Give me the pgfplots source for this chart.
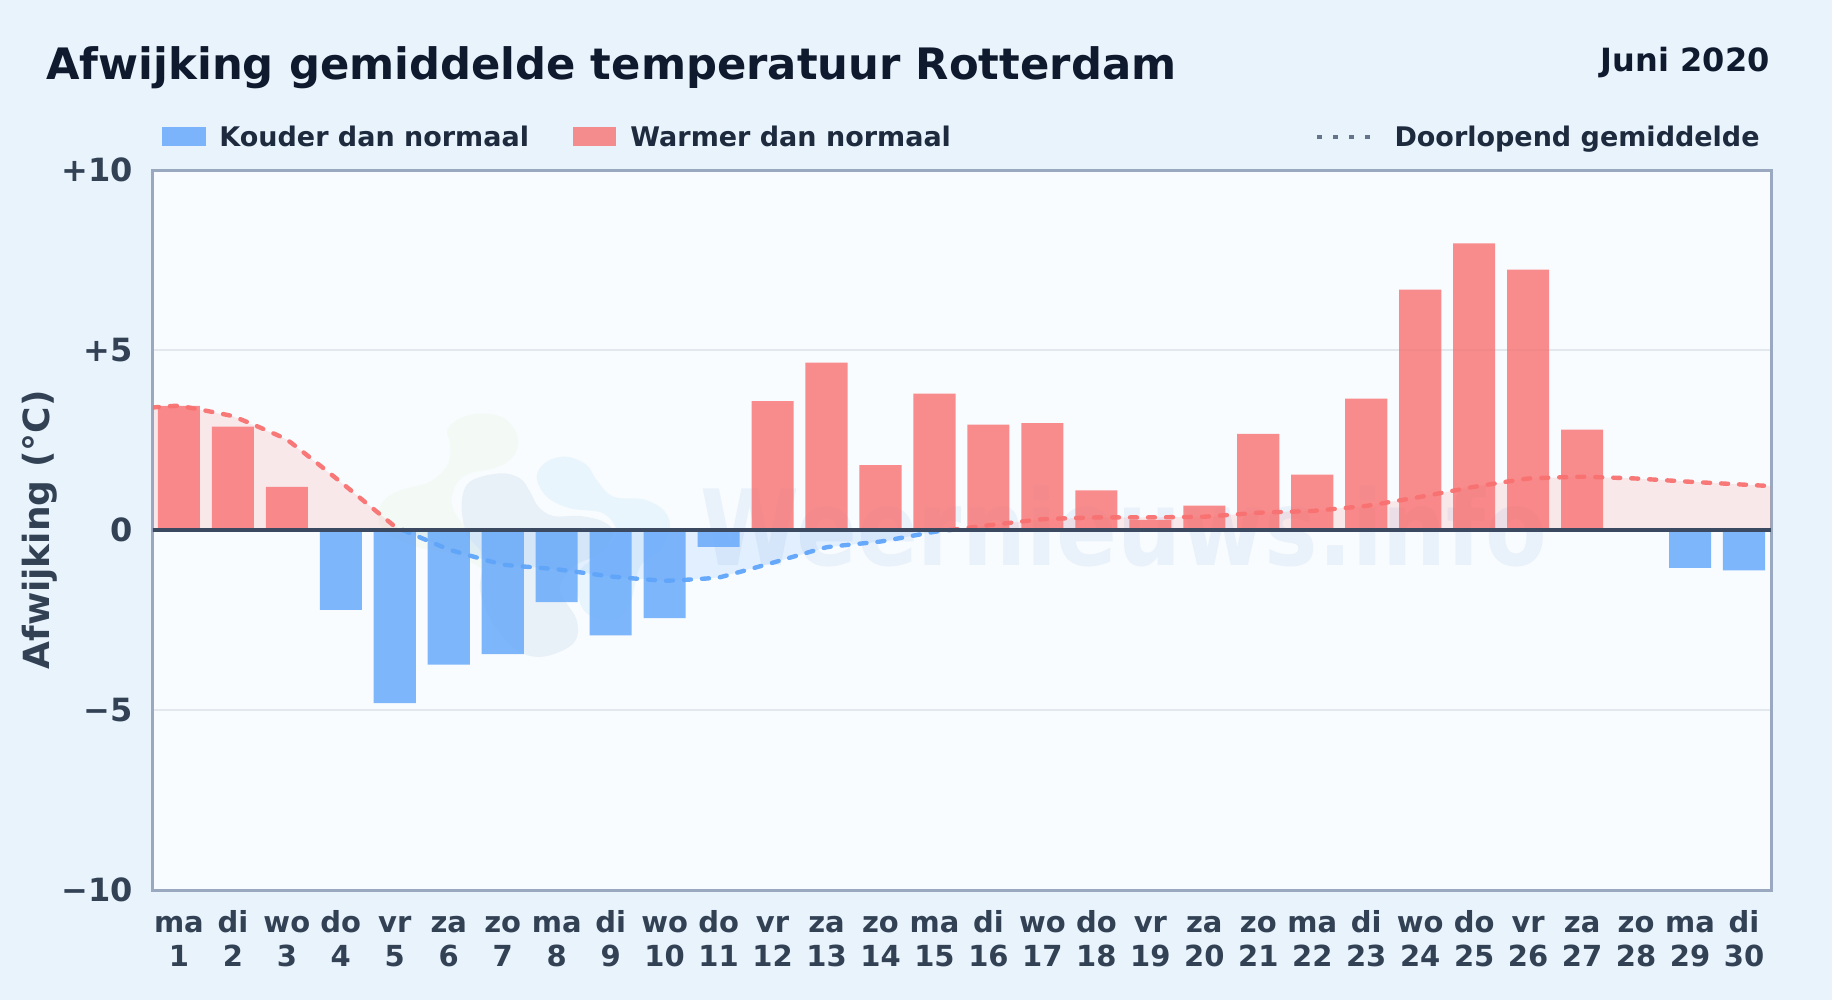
\documentclass[border=0pt]{standalone}
\usepackage{pgfplots}
\pgfplotsset{compat=1.18}
\usepackage{fontspec}
\setmainfont{DejaVu Sans}
\definecolor{pagebg}{HTML}{E8F3FC}
\definecolor{plotbg}{HTML}{F8FCFF}
\definecolor{frameC}{HTML}{9AA9C0}
\definecolor{gridC}{HTML}{E2E8ED}
\definecolor{zeroC}{HTML}{3B4A60}
\definecolor{coldC}{HTML}{60A5FA}
\definecolor{warmC}{HTML}{F87171}
\definecolor{titleC}{HTML}{0F1A2E}
\definecolor{legC}{HTML}{1E2B3E}
\definecolor{tickC}{HTML}{334155}
\definecolor{dotC}{HTML}{64748B}
\definecolor{wmGreen}{HTML}{F3F9F4}
\definecolor{wmDark}{HTML}{E9F1F8}
\definecolor{wmLight}{HTML}{E9F5FD}
\definecolor{wmText}{HTML}{E9F1FA}
\newcommand\tl[2]{\rule{0pt}{14pt}#1\\#2}
\pgfplotstableread{
x y
1 3.45
2 2.87
3 1.20
12 3.58
13 4.65
14 1.80
15 3.79
16 2.93
17 2.97
18 1.10
19 0.28
20 0.68
21 2.67
22 1.54
23 3.65
24 6.68
25 7.96
26 7.23
27 2.79
}\warmbars
\pgfplotstableread{
x y
4 -2.22
5 -4.81
6 -3.74
7 -3.45
8 -2.00
9 -2.93
10 -2.45
11 -0.47
29 -1.05
30 -1.12
}\coldbars
\pgfplotstableread{
x y
0.5 3.40
1 3.45
2 3.16
3 2.51
4 1.33
5 0.10
5.15 0
}\warmA
\pgfplotstableread{
x y
5.15 0
6 -0.54
7 -0.96
8 -1.09
9 -1.29
10 -1.41
11 -1.32
12 -0.91
13 -0.48
14 -0.32
15 -0.05
15.3 0
}\coldA
\pgfplotstableread{
x y
15.3 0
16 0.13
17 0.30
18 0.35
19 0.35
20 0.37
21 0.48
22 0.53
23 0.67
24 0.92
25 1.20
26 1.43
27 1.48
28 1.43
29 1.34
30 1.26
30.5 1.22
}\warmB
\pgfplotstableread{
x y
0.5 0
0.5 3.40
1 3.45
2 3.16
3 2.51
4 1.33
5 0.10
5.15 0
}\warmAfill
\pgfplotstableread{
x y
15.3 0
16 0.13
17 0.30
18 0.35
19 0.35
20 0.37
21 0.48
22 0.53
23 0.67
24 0.92
25 1.20
26 1.43
27 1.48
28 1.43
29 1.34
30 1.26
30.5 1.22
30.5 0
}\warmBfill
\begin{document}
\begin{tikzpicture}
\begin{scope}[x=0.5pt,y=-0.5pt]
% page in pixel coordinates: 1px = 0.5pt, origin top left
\path[fill=pagebg,use as bounding box] (0,0) rectangle (1832,1000);
\fill[plotbg] (153,170) rectangle (1771,890);
% faint watermark behind the plot
\begin{scope}[shift={(360,390)},x=0.16667pt,y=-0.16667pt]
\fill[wmGreen] plot[smooth cycle,tension=0.6] coordinates {(370,70)(440,90)(475,150)(455,205)(400,235)(330,250)(290,280)(275,340)(310,400)(400,440)(490,500)(525,560)(510,620)(470,610)(400,560)(300,500)(170,470)(70,420)(60,350)(110,305)(210,275)(265,220)(270,160)(262,120)(300,85)};
\fill[wmLight] plot[smooth cycle,tension=0.6] coordinates {(620,200)(680,225)(710,270)(760,320)(850,328)(910,360)(930,410)(900,480)(840,530)(810,640)(760,690)(680,670)(650,600)(660,540)(720,490)(770,430)(730,370)(630,355)(560,320)(530,260)(560,215)};
\fill[wmDark] plot[smooth cycle,tension=0.6] coordinates {(420,250)(480,265)(510,305)(535,350)(580,378)(660,378)(730,395)(760,430)(720,490)(640,530)(600,600)(650,690)(640,760)(550,800)(470,780)(400,700)(360,600)(370,500)(320,430)(305,340)(330,275)};
\end{scope}
\node[anchor=base west,inner sep=0,xscale=0.855,text=wmText,font=\fontsize{52.5}{60}\selectfont\bfseries] at (700,565) {Weernieuws.info};
\end{scope}
\begin{axis}[
  at={(76.5pt,-445pt)},anchor=south west,
  scale only axis,width=809pt,height=360pt,
  xmin=0.52,xmax=30.5,ymin=-10,ymax=10,
  axis line style={draw=frameC,line width=1.5pt},
  major tick length=0pt,
  ymajorgrids,
  grid style={draw=gridC,line width=0.8pt},
  xtick={1,...,30},
  xticklabels={\tl{ma}{1},\tl{di}{2},\tl{wo}{3},\tl{do}{4},\tl{vr}{5},\tl{za}{6},\tl{zo}{7},\tl{ma}{8},\tl{di}{9},\tl{wo}{10},\tl{do}{11},\tl{vr}{12},\tl{za}{13},\tl{zo}{14},\tl{ma}{15},\tl{di}{16},\tl{wo}{17},\tl{do}{18},\tl{vr}{19},\tl{za}{20},\tl{zo}{21},\tl{ma}{22},\tl{di}{23},\tl{wo}{24},\tl{do}{25},\tl{vr}{26},\tl{za}{27},\tl{zo}{28},\tl{ma}{29},\tl{di}{30}},
  xticklabel style={align=center,font=\fontsize{14.5}{17}\selectfont\bfseries,text=tickC,inner sep=0pt,yshift=-6.8pt},
  ytick={-10,-5,0,5,10},
  yticklabels={−10,−5,0,+5,+10},
  yticklabel style={font=\fontsize{16}{19}\selectfont\bfseries,text=tickC,inner sep=0pt,xshift=-10pt},
  ylabel={Afwijking (°C)},
  ylabel style={font=\fontsize{18}{21}\selectfont\bfseries,text=tickC,at={(axis description cs:-0.0700,0.5)},anchor=center},
  clip=true,
]
\addplot[fill=warmC,fill opacity=0.14,draw=none] table {\warmAfill};
\addplot[fill=warmC,fill opacity=0.14,draw=none] table {\warmBfill};
\addplot[fill=coldC,fill opacity=0.14,draw=none] table {\coldA};
\addplot[ybar,bar width=0.78,bar shift=0pt,fill=warmC,fill opacity=0.8,draw=none] table {\warmbars};
\addplot[ybar,bar width=0.78,bar shift=0pt,fill=coldC,fill opacity=0.8,draw=none] table {\coldbars};
\addplot[warmC,line width=2.2pt,line cap=round,dash pattern=on 3.5pt off 5.5pt,smooth,tension=0.15,draw opacity=0.95] table {\warmA};
\addplot[coldC,line width=2.2pt,line cap=round,dash pattern=on 3.5pt off 5.5pt,smooth,tension=0.15,draw opacity=0.95] table {\coldA};
\addplot[warmC,line width=2.2pt,line cap=round,dash pattern=on 3.5pt off 5.5pt,smooth,tension=0.15,draw opacity=0.95] table {\warmB};
\addplot[zeroC,line width=2pt] coordinates {(0.5,0) (30.5,0)};
\end{axis}
\begin{scope}[x=0.5pt,y=-0.5pt]
% titles
\node[anchor=base west,inner sep=0,text=titleC,font=\fontsize{21.65}{25}\selectfont\bfseries] at (46,79.5) {Afwijking gemiddelde temperatuur Rotterdam};
\node[anchor=base east,inner sep=0,text=titleC,font=\fontsize{16}{19}\selectfont\bfseries] at (1770,71.5) {Juni 2020};
% legend
\fill[coldC,fill opacity=0.8] (162,127) rectangle (206,146);
\node[anchor=base west,inner sep=0,text=legC,font=\fontsize{13.5}{16}\selectfont\bfseries] at (219,146.8) {Kouder dan normaal};
\fill[warmC,fill opacity=0.8] (573,127) rectangle (616,146);
\node[anchor=base west,inner sep=0,text=legC,font=\fontsize{13.5}{16}\selectfont\bfseries] at (630,146.8) {Warmer dan normaal};
\draw[draw=dotC,line width=2pt,dash pattern=on 2.4pt off 5.6pt] (1317,137) -- (1374,137);
\node[anchor=base east,inner sep=0,text=legC,font=\fontsize{13.5}{16}\selectfont\bfseries] at (1760,146.8) {Doorlopend gemiddelde};
\end{scope}
\end{tikzpicture}
\end{document}
